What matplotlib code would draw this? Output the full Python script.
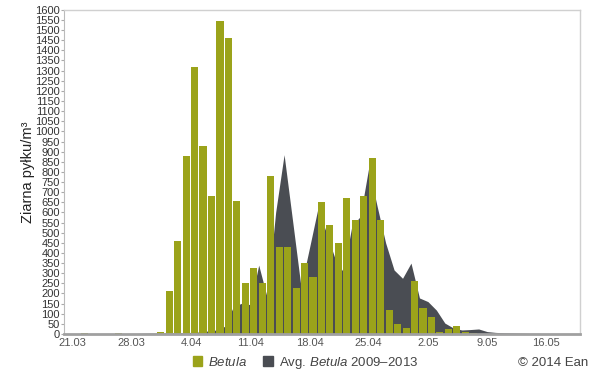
import matplotlib
matplotlib.use("Agg")
import matplotlib.pyplot as plt
import numpy as np
from matplotlib.patches import Patch

plt.rcParams["font.family"] = ["Liberation Sans", "DejaVu Sans"]
plt.rcParams["mathtext.fontset"] = "custom"
plt.rcParams["mathtext.rm"] = "Liberation Sans"
plt.rcParams["mathtext.it"] = "Liberation Sans:italic"

# one value per day, 20.03 .. 19.05
betula = [0, 0, 3, 0, 0, 0, 3, 0, 0, 0,
          0, 12, 210, 460, 880, 1320, 930, 680, 1545, 1460,
          655, 250, 325, 250, 780, 430, 430, 228, 350, 282,
          652, 538, 449, 672, 563, 681, 870, 563, 118, 50,
          28, 262, 130, 86, 12, 24, 40, 12, 3, 0,
          0, 0, 0, 0, 0, 0, 0, 0, 0, 0, 0]
avg_betula = [0, 0, 0, 0, 2, 1, 1, 1, 1, 3,
              4, 4, 5, 5, 6, 8, 10, 15, 20, 38,
              135, 152, 145, 340, 180, 600, 885, 560, 232, 425,
              620, 500, 375, 306, 530, 580, 820, 630, 450, 316,
              275, 350, 178, 160, 118, 54, 30, 20, 22, 25,
              12, 8, 6, 5, 4, 3, 3, 2, 2, 1, 1]
tick_days = [1, 8, 15, 22, 29, 36, 43, 50, 57]
tick_labels = ["21.03", "28.03", "4.04", "11.04", "18.04", "25.04",
               "2.05", "9.05", "16.05"]

green = "#9ba31a"
dark = "#4a4d53"

x = np.arange(len(betula))

fig = plt.figure(figsize=(6.05, 3.77), dpi=100)
ax = fig.add_axes([0.106, 0.114, 0.853, 0.86])

ax.fill_between(x, avg_betula, color=dark, lw=0, zorder=1)
ax.bar(x, betula, width=0.84, align="edge", color=green, lw=0, zorder=2)

ax.set_xlim(0, 61)
ax.set_ylim(0, 1600)
ax.set_yticks(np.arange(0, 1601, 50))
ax.set_xticks(tick_days)
ax.set_xticklabels(tick_labels)
ax.tick_params(axis="y", labelsize=8, length=2, pad=1, colors="#aaaaaa",
               labelcolor="#333333")
ax.tick_params(axis="x", labelsize=8, length=0, pad=3, labelcolor="#555555")

for side in ["top", "right"]:
    ax.spines[side].set_color("#d0d0d0")
    ax.spines[side].set_linewidth(1)
ax.spines["left"].set_color("#bbbbbb")
ax.spines["bottom"].set_color("#a0a0a0")
ax.spines["bottom"].set_linewidth(2)

ax.set_ylabel("Ziarna pyłku/m³", fontsize=10.5, color="#222222", labelpad=0)

handles = [Patch(color=green), Patch(color=dark)]
fig.legend(handles, ["$\\it{Betula}$", "Avg. $\\it{Betula}$ 2009–2013"],
           loc="center", bbox_to_anchor=(0.505, 0.038), ncol=2, frameon=False,
           fontsize=9.5, handlelength=0.7, handleheight=0.7, handletextpad=0.5,
           columnspacing=1.2, labelcolor="#444444")
fig.text(0.972, 0.038, "© 2014 Ean", ha="right", va="center", fontsize=9.5,
         color="#444444")

fig.savefig("out.png", dpi=100)
